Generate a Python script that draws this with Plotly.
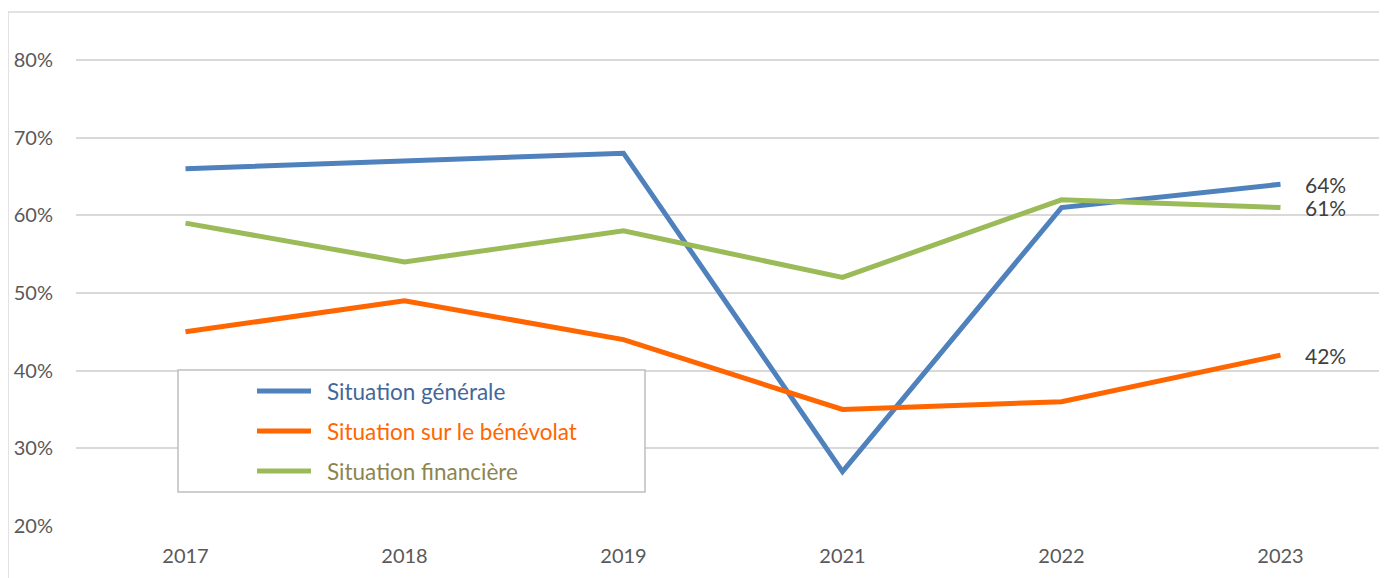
import plotly.graph_objects as go

years = ["2017", "2018", "2019", "2021", "2022", "2023"]
series_names = ["Situation générale", "Situation sur le bénévolat", "Situation financière"]
generale = [0.66, 0.67, 0.68, 0.27, 0.61, 0.64]
benevolat = [0.45, 0.49, 0.44, 0.35, 0.36, 0.42]
financiere = [0.59, 0.54, 0.58, 0.52, 0.62, 0.61]

line_colors = ["#4f81bd", "#ff6600", "#9bbb59"]
text_colors = ["#44679b", "#ff6600", "#8b8552"]

# page has an 8px body margin, so work in screen pixels and subtract it
OFF = 8
W, H = 1387 - OFF, 578 - OFF
ML, MR, MT, MB = 76 - OFF, 0, 15 - OFF, 52
PW, PH = W - ML - MR, H - MT - MB


def px(x):
    return (x - OFF - ML) / PW


def py(y):
    return (H - MB - (y - OFF)) / PH


fig = go.Figure()
annotations = []
for name, vals, col in zip(series_names, [generale, benevolat, financiere], line_colors):
    fig.add_trace(go.Scatter(
        x=years, y=vals, name=name, mode="lines",
        line=dict(color=col, width=5),
        showlegend=False,
    ))
    # category axis: annotations take the category index
    annotations.append(dict(x=len(years) - 1, y=vals[-1], text=f"{vals[-1]*100:.0f}%",
                            showarrow=False, xanchor="left", yanchor="middle", xshift=22,
                            font=dict(color="#404040", size=21)))

# manual legend box, laid out like the original
shapes = [
    dict(type="rect", xref="paper", yref="paper",
         x0=px(8), x1=px(1420), y0=py(12), y1=py(600),
         line=dict(color="#d9d9d9", width=1.5), layer="below"),
    dict(type="rect", xref="paper", yref="paper",
         x0=px(178), x1=px(645), y0=py(370), y1=py(492),
         line=dict(color="#bfbfbf", width=1.5), fillcolor="white", layer="above"),
]
for i, (name, col, tcol) in enumerate(zip(series_names, line_colors, text_colors)):
    yy = 391 + 40 * i
    shapes.append(dict(type="line", xref="paper", yref="paper",
                       x0=px(257), x1=px(311), y0=py(yy), y1=py(yy),
                       line=dict(color=col, width=5), layer="above"))
    annotations.append(dict(xref="paper", yref="paper", x=px(325), y=py(yy),
                            text=name, showarrow=False, xanchor="left", yanchor="middle",
                            font=dict(color=tcol, size=22.5)))

fig.update_layout(
    width=W, height=H,
    margin=dict(l=ML, r=MR, t=MT, b=MB),
    paper_bgcolor="white", plot_bgcolor="white",
    font=dict(family="Lato, Carlito, sans-serif", size=20, color="#595959"),
    shapes=shapes, annotations=annotations,
    xaxis=dict(type="category", range=[-0.5, -0.5 + PW / 219.0],
               showgrid=False, zeroline=False, showline=False, ticks="",
               ticklabelstandoff=16),
    yaxis=dict(range=[0.2, 0.2 + PH / 776.7], tickvals=[0.2, 0.3, 0.4, 0.5, 0.6, 0.7, 0.8],
               tickformat=".0%", showgrid=True, gridcolor="#d9d9d9", gridwidth=1.5,
               zeroline=False, showline=False, ticks="", ticklabelstandoff=22),
)

fig.write_html("out.html")
